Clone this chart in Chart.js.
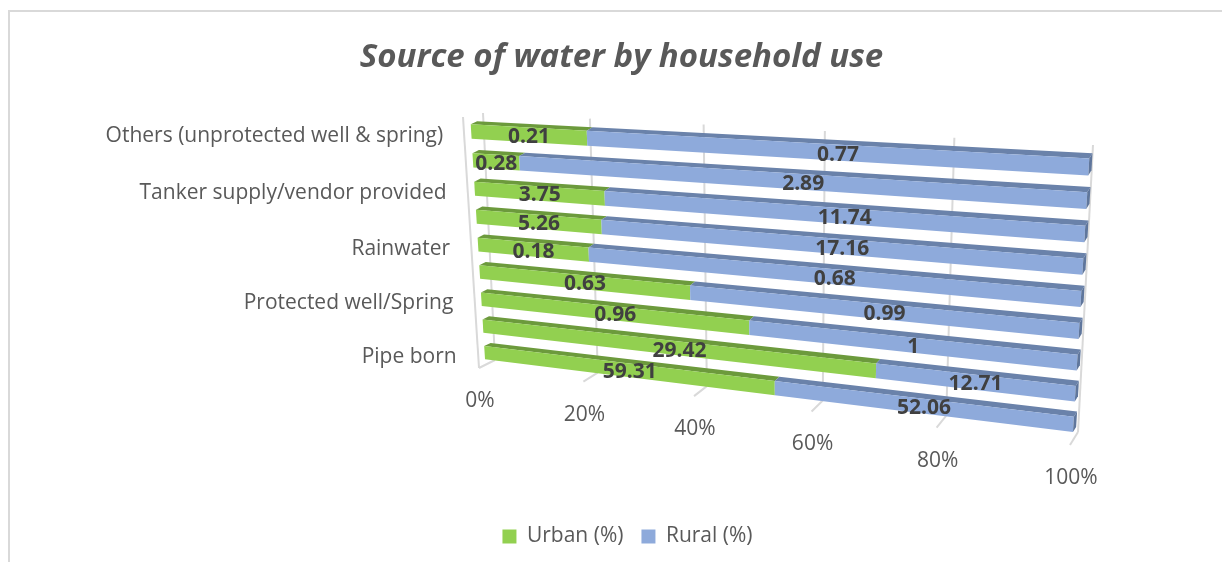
<!DOCTYPE html>
<html lang="en">
<head>
    <meta charset="UTF-8">
    <title>Source of water by household use</title>
    <script src="https://cdn.jsdelivr.net/npm/chart.js"></script>
    <style>
        html, body { margin: 0; padding: 0; background: #fff; overflow: hidden; }
        body { width: 1222px; height: 562px; position: relative; }
        .frame {
            position: absolute; left: 8px; top: 10px; right: 0; bottom: 0;
            border-top: 2px solid #d9d9d9; border-left: 2px solid #d9d9d9;
        }
        canvas { position: absolute; left: 0; top: 0; }
    </style>
</head>
<body>
    <div class="frame"></div>
    <canvas id="waterChart" width="1243" height="562"></canvas>

    <script>
        // top row first, Excel only printed every second category name
        const categories = ['Others (unprotected well & spring)', '', 'Tanker supply/vendor provided', '', 'Rainwater', '', 'Protected well/Spring', '', 'Pipe born'];
        const urban = [0.21, 0.28, 3.75, 5.26, 0.18, 0.63, 0.96, 29.42, 59.31];
        const rural = [0.77, 2.89, 11.74, 17.16, 0.68, 0.99, 1, 12.71, 52.06];
        const tickValues = [0, 20, 40, 60, 80, 100];

        const GREEN = '#92d050', GREEN_TOP = '#6c9a3c';
        const BLUE = '#8eaadb', BLUE_TOP = '#6a82aa', BLUE_END = '#5f769c';
        const GRID = '#d9d9d9';
        const TEXT = '#595959';
        const LABEL_FONT = 'Open Sans';

        // 100% stacked: each row is scaled to its own total
        const share = (a, b) => a.map((v, i) => v / (v + b[i]) * 100);

        // square to quad projection, corners are tl, tr, br, bl on screen
        function makeProjection(q) {
            const [x0, y0] = q[0], [x1, y1] = q[1], [x2, y2] = q[2], [x3, y3] = q[3];
            const dx1 = x1 - x2, dx2 = x3 - x2, sx = x0 - x1 + x2 - x3;
            const dy1 = y1 - y2, dy2 = y3 - y2, sy = y0 - y1 + y2 - y3;
            const den = dx1 * dy2 - dx2 * dy1;
            const g = (sx * dy2 - dx2 * sy) / den;
            const h = (dx1 * sy - sx * dy1) / den;
            const a = x1 - x0 + g * x1, b = x3 - x0 + h * x3;
            const d = y1 - y0 + g * y1, e = y3 - y0 + h * y3;
            return (u, v) => {
                const w = g * u + h * v + 1;
                return [(a * u + b * v + x0) / w, (d * u + e * v + y0) / w];
            };
        }

        const barPlane = makeProjection([[470.3, 117.1], [1089.8, 150], [1072.5, 439.7], [485.4, 365.9]]);
        const wallPlane = makeProjection([[483, 113], [1093, 145], [1078, 432], [495, 360]]);

        function poly(ctx, pts, color) {
            ctx.fillStyle = color;
            ctx.beginPath();
            pts.forEach((p, i) => i ? ctx.lineTo(p[0], p[1]) : ctx.moveTo(p[0], p[1]));
            ctx.closePath();
            ctx.fill();
        }

        function line(ctx, a, b) {
            ctx.beginPath();
            ctx.moveTo(a[0], a[1]);
            ctx.lineTo(b[0], b[1]);
            ctx.stroke();
        }

        // top face of the bars leans back along this vector
        const barDepth = u => [6.4 - 3.2 * u, -3.2 - 2 * u];
        const back = (p, u) => { const d = barDepth(u); return [p[0] + d[0], p[1] + d[1]]; };

        const perspective3d = {
            id: 'perspective3d',
            afterLayout(chart) {
                // legend sits a little right of the title in the original
                chart.legend.left += 6;
                chart.legend.right += 6;
            },
            beforeDatasetsDraw(chart) {
                const ctx = chart.ctx, area = chart.chartArea;
                const xs = chart.scales.x, ys = chart.scales.y;
                const toU = px => (px - area.left) / area.width;
                const toV = py => (py - area.top) / area.height;

                ctx.save();

                // walls and floor ticks
                ctx.strokeStyle = GRID;
                ctx.lineWidth = 2;
                ctx.fillStyle = TEXT;
                ctx.font = '21px "' + LABEL_FONT + '"';
                ctx.textAlign = 'center';
                ctx.textBaseline = 'middle';
                xs.ticks.forEach(t => {
                    const u = toU(xs.getPixelForValue(t.value));
                    const top = wallPlane(u, 0), bottom = wallPlane(u, 1);
                    const front = [bottom[0] - 16 + 8 * u, bottom[1] + 8 + 5 * u];
                    line(ctx, top, bottom);
                    line(ctx, bottom, front);
                    ctx.fillText(t.label, front[0] + 1, front[1] + 33);
                });
                line(ctx, [463, 117], [479, 368]);

                // category names, right aligned against the left wall
                ctx.textAlign = 'right';
                categories.forEach((name, i) => {
                    if (!name) return;
                    const p = barPlane(0, toV(ys.getPixelForValue(i)));
                    ctx.fillText(name, p[0] - 28, p[1] + 4);
                });

                // bars, from their chart.js elements
                const metaU = chart.getDatasetMeta(0).data, metaR = chart.getDatasetMeta(1).data;
                const labels = [];
                metaU.forEach((el, i) => {
                    const top = toV(el.y - el.height / 2), bot = toV(el.y + el.height / 2);
                    const u0 = toU(xs.getPixelForValue(0));
                    const u1 = toU(el.x);
                    const u2 = toU(metaR[i].x);
                    const seg = [[u0, u1, GREEN, GREEN_TOP, urban[i]], [u1, u2, BLUE, BLUE_TOP, rural[i]]];
                    seg.forEach(([a, b, col, topCol, val]) => {
                        const tl = barPlane(a, top), tr = barPlane(b, top);
                        const br = barPlane(b, bot), bl = barPlane(a, bot);
                        poly(ctx, [tl, tr, back(tr, b), back(tl, a)], topCol);
                        poly(ctx, [tl, tr, br, bl], col);
                        labels.push([String(val), (tl[0] + tr[0] + br[0] + bl[0]) / 4, (tl[1] + tr[1] + br[1] + bl[1]) / 4]);
                    });
                    const tr = barPlane(u2, top), br = barPlane(u2, bot);
                    poly(ctx, [tr, back(tr, u2), back(br, u2), br], BLUE_END);
                });

                ctx.fillStyle = '#404040';
                ctx.font = 'bold 21px "' + LABEL_FONT + '"';
                ctx.textAlign = 'center';
                labels.forEach(l => ctx.fillText(l[0], l[1], l[2] + 2));

                ctx.restore();
                return false; // flat bars stay undrawn
            }
        };

        new Chart(document.getElementById('waterChart'), {
            type: 'bar',
            plugins: [perspective3d],
            data: {
                labels: categories,
                datasets: [
                    { label: 'Urban (%)', data: share(urban, rural), backgroundColor: GREEN, barPercentage: 1, categoryPercentage: 0.5 },
                    { label: 'Rural (%)', data: share(rural, urban), backgroundColor: BLUE, barPercentage: 1, categoryPercentage: 0.5 }
                ]
            },
            options: {
                indexAxis: 'y',
                responsive: false,
                animation: false,
                layout: { padding: { bottom: 5 } },
                scales: {
                    x: {
                        stacked: true, min: 0, max: 100,
                        afterBuildTicks: s => { s.ticks = tickValues.map(v => ({ value: v })); },
                        ticks: { display: false, callback: v => v + '%' },
                        grid: { display: false }, border: { display: false }
                    },
                    y: {
                        stacked: true,
                        ticks: { display: false },
                        grid: { display: false }, border: { display: false }
                    }
                },
                plugins: {
                    tooltip: { enabled: false },
                    title: {
                        display: true,
                        text: 'Source of water by household use',
                        color: TEXT,
                        font: { family: LABEL_FONT, size: 33, weight: 'bold', style: 'italic' },
                        padding: { top: 38, bottom: 20 }
                    },
                    legend: {
                        position: 'bottom',
                        labels: {
                            color: TEXT, boxWidth: 14, boxHeight: 14, padding: 18,
                            font: { family: LABEL_FONT, size: 21 }
                        }
                    }
                }
            }
        });
    </script>
</body>
</html>
